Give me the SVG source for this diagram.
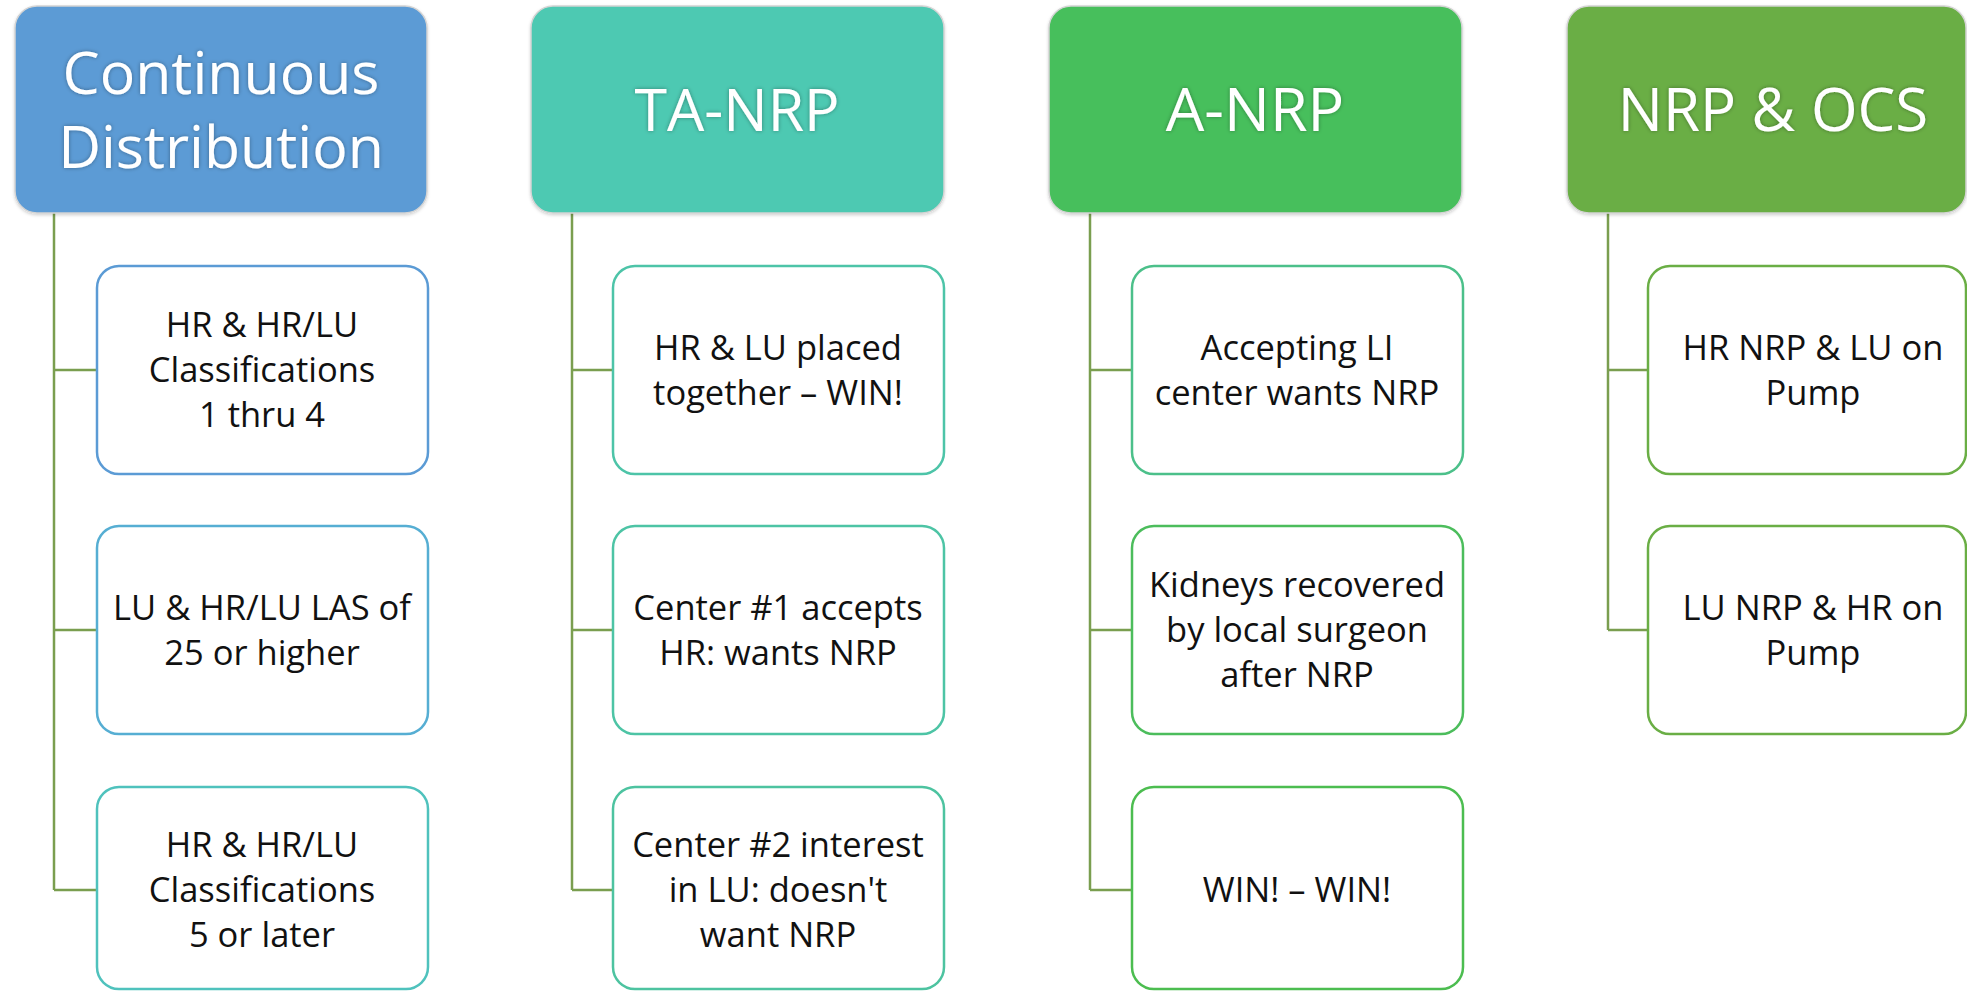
<svg xmlns="http://www.w3.org/2000/svg" width="1967" height="991" viewBox="0 0 1967 991">
<defs>
<filter id="glow" x="-10%" y="-20%" width="120%" height="140%">
<feGaussianBlur in="SourceAlpha" stdDeviation="2"/>
<feComponentTransfer><feFuncA type="linear" slope="0.35"/></feComponentTransfer>
<feMerge><feMergeNode/><feMergeNode in="SourceGraphic"/></feMerge>
</filter>
<filter id="sh" x="-5%" y="-5%" width="110%" height="115%">
<feDropShadow dx="0" dy="1.5" stdDeviation="1.5" flood-color="#000" flood-opacity="0.18"/>
</filter>
</defs>
<style>
.hd{stroke:#d4d4d4;stroke-width:1.5}
.ht{font-family:"Open Sans","Noto Sans",sans-serif;fill:#ffffff;text-anchor:middle}
.bx{fill:#ffffff;stroke-width:2.5}
.bt{font-family:"Open Sans","Noto Sans",sans-serif;font-size:34.5px;fill:#111111;text-anchor:middle}
.cn{fill:none;stroke:#7a9e4f;stroke-width:2.5}
</style>
<rect width="1967" height="991" fill="#ffffff"/>

<g id="connectors">
<path class="cn" d="M54,213 V890 M54,370 H97 M54,630 H97 M54,890 H97"/>
<path class="cn" d="M572,213 V890 M572,370 H613 M572,630 H613 M572,890 H613"/>
<path class="cn" d="M1090,213 V890 M1090,370 H1132 M1090,630 H1132 M1090,890 H1132"/>
<path class="cn" d="M1608,213 V630 M1608,370 H1648 M1608,630 H1648"/>
</g>

<g id="h-cd">
<rect class="hd" x="15" y="6" width="412" height="207" rx="22" fill="#5b9bd5" filter="url(#sh)"/>
<text class="ht" x="221" y="94" font-size="59" filter="url(#glow)">Continuous</text>
<text class="ht" x="221" y="168" font-size="59" filter="url(#glow)">Distribution</text>
</g>
<g id="h-tanrp">
<rect class="hd" x="531" y="6" width="413" height="207" rx="22" fill="#4dc9b2" filter="url(#sh)"/>
<text class="ht" x="737" y="131" font-size="59" filter="url(#glow)">TA-NRP</text>
</g>
<g id="h-anrp">
<rect class="hd" x="1049" y="6" width="413" height="207" rx="22" fill="#47bf5c" filter="url(#sh)"/>
<text class="ht" x="1255" y="131" font-size="61" filter="url(#glow)">A-NRP</text>
</g>
<g id="h-ocs">
<rect class="hd" x="1567" y="6" width="399" height="207" rx="22" fill="#6aae45" filter="url(#sh)"/>
<text class="ht" x="1773" y="131" font-size="60" filter="url(#glow)">NRP &amp; OCS</text>
</g>

<g id="cd-1">
<rect class="bx" x="97" y="266" width="331" height="208" rx="22" stroke="#5b9bd5"/>
<text class="bt" x="262" y="337">HR &amp; HR/LU</text>
<text class="bt" x="262" y="382">Classifications</text>
<text class="bt" x="262" y="427">1 thru 4</text>
</g>
<g id="cd-2">
<rect class="bx" x="97" y="526" width="331" height="208" rx="22" stroke="#56aed3"/>
<text class="bt" x="262" y="620">LU &amp; HR/LU  LAS of</text>
<text class="bt" x="262" y="665">25 or higher</text>
</g>
<g id="cd-3">
<rect class="bx" x="97" y="787" width="331" height="202" rx="22" stroke="#4fc2bd"/>
<text class="bt" x="262" y="857">HR &amp; HR/LU</text>
<text class="bt" x="262" y="902">Classifications</text>
<text class="bt" x="262" y="947">5 or later</text>
</g>

<g id="ta-1">
<rect class="bx" x="613" y="266" width="331" height="208" rx="22" stroke="#4dc4a8"/>
<text class="bt" x="778" y="360">HR &amp; LU placed</text>
<text class="bt" x="778" y="405">together – WIN!</text>
</g>
<g id="ta-2">
<rect class="bx" x="613" y="526" width="331" height="208" rx="22" stroke="#4dc4a5"/>
<text class="bt" x="778" y="620">Center #1 accepts</text>
<text class="bt" x="778" y="665">HR: wants NRP</text>
</g>
<g id="ta-3">
<rect class="bx" x="613" y="787" width="331" height="202" rx="22" stroke="#4dc3a0"/>
<text class="bt" x="778" y="857">Center #2 interest</text>
<text class="bt" x="778" y="902">in LU: doesn't</text>
<text class="bt" x="778" y="947">want NRP</text>
</g>

<g id="a-1">
<rect class="bx" x="1132" y="266" width="331" height="208" rx="22" stroke="#4cc08a"/>
<text class="bt" x="1297" y="360">Accepting LI</text>
<text class="bt" x="1297" y="405">center wants NRP</text>
</g>
<g id="a-2">
<rect class="bx" x="1132" y="526" width="331" height="208" rx="22" stroke="#4cbd5c"/>
<text class="bt" x="1297" y="597">Kidneys recovered</text>
<text class="bt" x="1297" y="642">by local surgeon</text>
<text class="bt" x="1297" y="687">after NRP</text>
</g>
<g id="a-3">
<rect class="bx" x="1132" y="787" width="331" height="202" rx="22" stroke="#4cbd50"/>
<text class="bt" x="1297" y="902">WIN! – WIN!</text>
</g>

<g id="o-1">
<rect class="bx" x="1648" y="266" width="318" height="208" rx="22" stroke="#6aae45"/>
<text class="bt" x="1813" y="360">HR NRP &amp; LU on</text>
<text class="bt" x="1813" y="405">Pump</text>
</g>
<g id="o-2">
<rect class="bx" x="1648" y="526" width="318" height="208" rx="22" stroke="#6aae45"/>
<text class="bt" x="1813" y="620">LU NRP &amp; HR on</text>
<text class="bt" x="1813" y="665">Pump</text>
</g>
</svg>
